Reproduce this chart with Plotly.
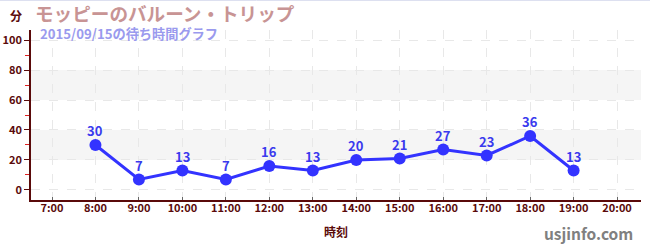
import plotly.graph_objects as go

hours = [8, 9, 10, 11, 12, 13, 14, 15, 16, 17, 18, 19]
waits = [30, 7, 13, 7, 16, 13, 20, 21, 27, 23, 36, 13]
tick_hours = list(range(7, 21))
tick_labels = [f"{h}:00" for h in tick_hours]
y_ticks = [0, 20, 40, 60, 80, 100]

FONT = "Noto Sans CJK JP"
AX = "#5a0a0a"

W, H = 650, 250
pl, pr, pt, pb = 31, 9, 30, 50
pw, ph = W - pl - pr, H - pt - pb

def px(x):
    return (x - pl) / pw

def py(y):
    return (H - pb - y) / ph

fig = go.Figure()
fig.add_trace(go.Scatter(
    x=hours, y=waits, mode="lines+markers",
    line=dict(color="#3333ff", width=3),
    marker=dict(color="#3333ff", size=12),
    cliponaxis=False, hoverinfo="skip",
))

for h, v in zip(hours, waits):
    fig.add_annotation(x=h, y=v, xref="x", yref="y", text=str(v), showarrow=False,
                       yshift=14, font=dict(family=FONT, size=13, color="#3a3aee", weight="bold"))

for lo, hi in [(20, 40), (60, 80)]:
    fig.add_hrect(y0=lo, y1=hi, fillcolor="#f5f5f5", line_width=0, layer="below")

fig.update_layout(
    width=W, height=H,
    margin=dict(l=pl, r=pr, t=pt, b=pb),
    plot_bgcolor="white", paper_bgcolor="white",
    showlegend=False,
    font=dict(family=FONT, color=AX),
    xaxis=dict(
        range=[6.517, 20.55], tickvals=tick_hours, ticktext=tick_labels,
        showgrid=True, gridcolor="#e8e8e8", griddash="dash", gridwidth=1,
        showline=True, linecolor=AX, linewidth=1.5,
        ticks="inside", ticklen=3, tickcolor="#666",
        tickfont=dict(family=FONT, size=11, color=AX, weight="bold"),
        ticklabelstandoff=-3,
        zeroline=False, automargin=False,
        title=dict(text="時刻", font=dict(family=FONT, size=12, color=AX, weight="bold"), standoff=15),
    ),
    yaxis=dict(
        range=[-6.7, 106.7], tickvals=y_ticks,
        showgrid=True, gridcolor="#e8e8e8", griddash="dash", gridwidth=1,
        showline=True, linecolor=AX, linewidth=1.5,
        ticks="outside", ticklen=5, tickcolor=AX,
        minor=dict(tickvals=[10, 30, 50, 70, 90], ticks="outside", ticklen=4, tickcolor="#dd2222", showgrid=False),
        tickfont=dict(family=FONT, size=11, color=AX, weight="bold"),
        zeroline=False, automargin=False,
    ),
)

anns = [
    dict(text="分", x=px(16), y=py(15), xanchor="center", yanchor="middle",
         font=dict(family=FONT, size=12, color=AX, weight="bold")),
    dict(text="モッピーのバルーン・トリップ", x=px(34), y=py(13), xanchor="left", yanchor="middle",
         font=dict(family=FONT, size=18.6, color="#c89494", weight="bold"), borderpad=0),
    dict(text="2015/09/15の待ち時間グラフ", x=px(39), y=py(33), xanchor="left", yanchor="middle",
         font=dict(family=FONT, size=13.2, color="#9a9aee", weight="bold"), borderpad=0),
    dict(text="usjinfo.com", x=px(635), y=py(233), xanchor="right", yanchor="middle",
         font=dict(family=FONT, size=15.5, color="#808080", weight="bold")),
]
for a in anns:
    fig.add_annotation(xref="paper", yref="paper", showarrow=False, **a)

fig.add_shape(type="line", xref="paper", yref="paper", x0=px(0), x1=px(650), y0=py(0.5), y1=py(0.5),
              line=dict(color="#dde0f0", width=1))

fig.write_html("out.html")
